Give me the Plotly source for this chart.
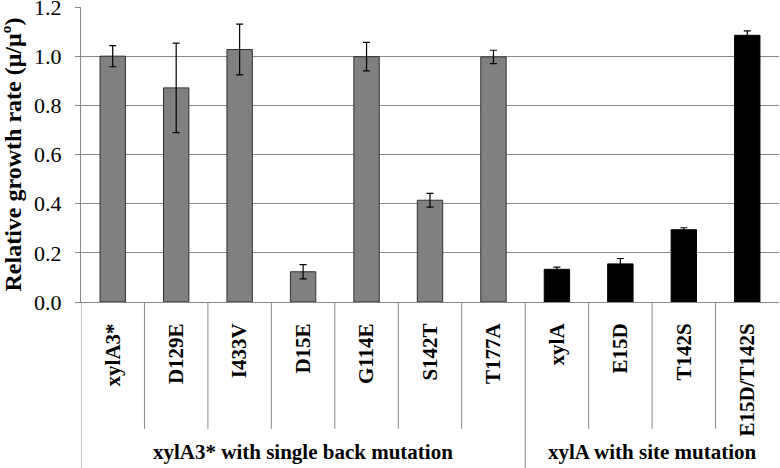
import plotly.graph_objects as go

categories = ["xylA3*", "D129E", "I433V", "D15E", "G114E", "S142T", "T177A",
              "xylA", "E15D", "T142S", "E15D/T142S"]
values = [1.0, 0.871, 1.027, 0.123, 0.998, 0.414, 0.997, 0.133, 0.155, 0.294, 1.085]
errors = [0.043, 0.182, 0.103, 0.029, 0.058, 0.028, 0.027, 0.009, 0.022, 0.008, 0.018]
groups = ["xylA3* with single back mutation"] * 7 + ["xylA with site mutation"] * 4
y_ticks = [0.0, 0.2, 0.4, 0.6, 0.8, 1.0, 1.2]

colors = ["#808080" if g == groups[0] else "#000000" for g in groups]
line_colors = ["#303030" if g == groups[0] else "#000000" for g in groups]

FONT = "Liberation Serif"

fig = go.Figure(go.Bar(
    x=list(range(len(categories))), y=values,
    marker=dict(color=colors, line=dict(color=line_colors, width=1)),
    error_y=dict(type="data", array=errors, visible=True, color="black",
                 thickness=1.2, width=3.5),
    width=0.4,
))

shapes = []
group_names = []
for g in groups:
    if g not in group_names:
        group_names.append(g)
bounds = {g: [i for i, gg in enumerate(groups) if gg == g] for g in group_names}
group_edges = [-0.5] + [bounds[g][-1] + 0.5 for g in group_names]
for i in range(len(categories) - 1):
    b = i + 0.5
    if b in group_edges:
        continue
    shapes.append(dict(type="line", xref="x", yref="paper", x0=b, x1=b,
                       y0=0, y1=-0.43, line=dict(color="#888888", width=1)))
for b in group_edges[:-1]:
    shapes.append(dict(type="line", xref="x", yref="paper", x0=b, x1=b,
                       y0=0, y1=-0.6, line=dict(color="#888888", width=1)))

annotations = []
for g in group_names:
    idx = bounds[g]
    annotations.append(dict(x=(idx[0] + idx[-1]) / 2, y=-0.51, xref="x", yref="paper",
                            text="<b>%s</b>" % g, showarrow=False,
                            font=dict(family=FONT, size=21, color="black"),
                            yanchor="middle"))

fig.update_layout(
    width=780, height=468,
    margin=dict(l=81, r=1, t=7, b=166),
    plot_bgcolor="white", paper_bgcolor="white",
    showlegend=False,
    bargap=0.6,
    font=dict(family=FONT, color="black"),
    shapes=shapes, annotations=annotations,
    xaxis=dict(
        tickmode="array", tickvals=list(range(len(categories))),
        ticktext=["<b>%s</b>" % c for c in categories],
        tickangle=-90, tickfont=dict(family=FONT, size=21, color="black"),
        range=[-0.5, len(categories) - 0.5],
        showline=True, linecolor="#888888", linewidth=1,
        showgrid=False, zeroline=False, ticks="", ticklabelstandoff=12,
        automargin=False,
    ),
    yaxis=dict(
        range=[0, 1.2], tickvals=y_ticks, tickformat=".1f",
        tickfont=dict(family=FONT, size=22, color="black"),
        showgrid=True, gridcolor="#888888", gridwidth=1,
        showline=True, linecolor="#888888", linewidth=1,
        ticks="outside", ticklen=5, tickcolor="#888888",
        ticklabelstandoff=9, ticklabeloverflow="allow",
        zeroline=False, automargin=False,
        title=dict(text="<b>Relative growth rate (μ/μº)</b>",
                   font=dict(family=FONT, size=24, color="black"), standoff=6),
    ),
)

fig.write_html("out.html", config={"displayModeBar": False},
               post_script="document.body.style.margin='0';document.body.style.overflow='hidden';")
